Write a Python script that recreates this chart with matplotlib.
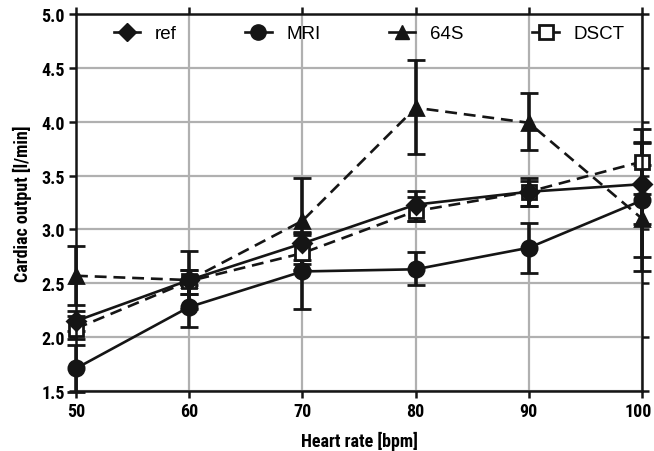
import matplotlib
matplotlib.use("Agg")
import matplotlib.pyplot as plt
import matplotlib.transforms as mtransforms
from matplotlib.lines import Line2D
from matplotlib import font_manager

# Heart rate steps
heart_rate = [50, 60, 70, 80, 90, 100]

# Cardiac output per method, with lower/upper error bar ends
ref_vals = [2.15, 2.53, 2.87, 3.23, 3.35, 3.42]
ref_lo = [2.06, 2.40, 2.72, 3.08, 3.22, 3.05]
ref_hi = [2.24, 2.62, 2.98, 3.36, 3.48, 3.81]

mri_vals = [1.71, 2.28, 2.61, 2.63, 2.83, 3.27]
mri_lo = [1.49, 2.09, 2.26, 2.48, 2.60, 2.74]
mri_hi = [1.93, 2.48, 2.97, 2.79, 3.06, 3.80]

s64_vals = [2.57, 2.53, 3.08, 4.13, 3.99, 3.10]
s64_lo = [2.30, 2.26, 2.68, 3.70, 3.74, 2.61]
s64_hi = [2.85, 2.80, 3.48, 4.57, 4.27, 3.60]

dsct_vals = [2.08, 2.52, 2.78, 3.17, 3.35, 3.63]
dsct_lo = [1.98, 2.40, 2.62, 3.08, 3.22, 3.33]
dsct_hi = [2.20, 2.62, 2.95, 3.30, 3.45, 3.93]

x_ticks = [50, 60, 70, 80, 90, 100]
y_ticks = [1.5, 2.0, 2.5, 3.0, 3.5, 4.0, 4.5, 5.0]

# condensed bold face for axis text if one is installed
names = set(f.name for f in font_manager.fontManager.ttflist)
narrow = "Liberation Sans"
for cand in ["Liberation Sans Narrow", "DejaVu Sans Condensed", "Roboto Condensed", "Open Sans Condensed"]:
    if cand in names:
        narrow = cand
        break
tick_size = 13 if narrow != "Liberation Sans" else 11

plt.rcParams["font.family"] = "Liberation Sans"

fig = plt.figure(figsize=(6.54, 4.52), dpi=100)
ax = fig.add_axes([0.1162, 0.1327, 0.8655, 0.8341])

dark = "#151515"
lw = 1.9


def draw(vals, lo, hi, marker, ms, dashed, face):
    yerr = [[v - l for v, l in zip(vals, lo)], [h - v for v, h in zip(vals, hi)]]
    line = ax.errorbar(heart_rate, vals, yerr=yerr, color=dark, lw=lw,
                       marker=marker, ms=ms, mfc=face, mec=dark, mew=2.0,
                       capsize=6.5, capthick=2.6, elinewidth=2.6,
                       ls="--" if dashed else "-", clip_on=False, zorder=3)
    if dashed:
        line[0].set_dashes((4.5, 2.6))
    for c in line[1]:
        c.set_clip_on(False)
    for b in line[2]:
        b.set_clip_on(False)


draw(s64_vals, s64_lo, s64_hi, "^", 10, True, dark)
draw(dsct_vals, dsct_lo, dsct_hi, "s", 10, True, "white")
draw(ref_vals, ref_lo, ref_hi, "D", 9, False, dark)
draw(mri_vals, mri_lo, mri_hi, "o", 11, False, dark)

ax.set_xlim(50, 100)
ax.set_ylim(1.5, 5.0)
ax.set_xticks(x_ticks)
ax.set_yticks(y_ticks)
ax.set_xticklabels([str(t) for t in x_ticks], fontfamily=narrow, fontweight="bold", fontsize=tick_size)
ax.set_yticklabels([f"{t:.1f}" for t in y_ticks], fontfamily=narrow, fontweight="bold", fontsize=tick_size)
ax.tick_params(direction="out", length=5, width=1.8, color=dark,
               top=True, right=True, labeltop=False, labelright=False, pad=3)
ax.grid(True, color="#b0b0b0", lw=1.6, zorder=0)
ax.set_axisbelow(True)
for s in ax.spines.values():
    s.set_linewidth(1.8)
    s.set_color(dark)
    s.set_zorder(4)

# nudge the last x label in so it stays on the canvas
last = ax.get_xticklabels()[-1]
last.set_transform(last.get_transform() + mtransforms.ScaledTranslation(-4 / 100, 0, fig.dpi_scale_trans))

ax.set_xlabel("Heart rate [bpm]", fontfamily=narrow, fontweight="bold", fontsize=tick_size, labelpad=8)
ax.set_ylabel("Cardiac output [l/min]", fontfamily=narrow, fontweight="bold", fontsize=tick_size, labelpad=7)

handles = [
    Line2D([], [], color=dark, lw=lw, marker="D", ms=9, mfc=dark, mec=dark),
    Line2D([], [], color=dark, lw=lw, marker="o", ms=11, mfc=dark, mec=dark),
    Line2D([], [], color=dark, lw=lw, marker="^", ms=10, mfc=dark, mec=dark),
    Line2D([], [], color=dark, lw=lw, marker="s", ms=10, mfc="white", mec=dark, mew=2.0),
]
ax.legend(handles, ["ref", "MRI", "64S", "DSCT"],
          loc="upper center", bbox_to_anchor=(0.518, 1.0), ncol=4, frameon=False,
          fontsize=13.5, handlelength=1.4, columnspacing=3.65, handletextpad=0.8,
          borderaxespad=0.2)

fig.savefig("out.png", dpi=100)
